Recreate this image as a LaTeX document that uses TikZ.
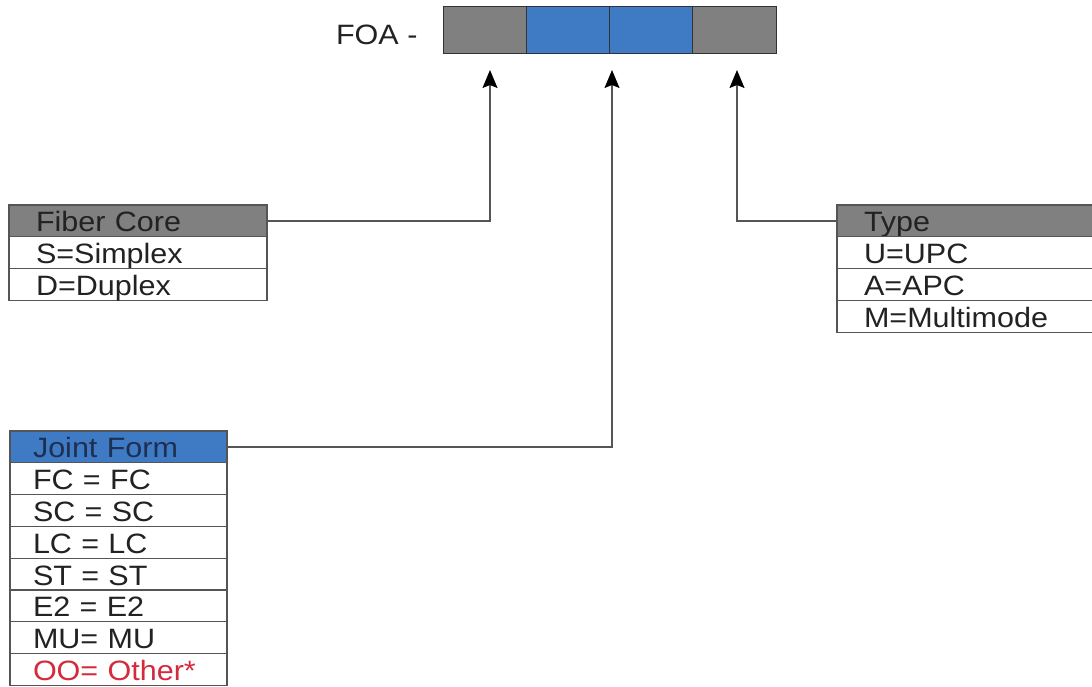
\documentclass[tikz,border=0pt]{standalone}
\usepackage{fontspec}
\setmainfont{Liberation Sans}[FakeStretch=1.09]
\usetikzlibrary{positioning,arrows.meta}
\definecolor{cellgray}{HTML}{808080}
\definecolor{cellblue}{HTML}{3E7BC4}
\definecolor{rulegray}{HTML}{555555}
\definecolor{textdark}{HTML}{222222}
\definecolor{navytext}{HTML}{1E2F52}
\definecolor{otherred}{HTML}{D42A3C}
\begin{document}
\begin{tikzpicture}[x=1pt,y=-1pt,
  barcell/.style={draw=black!80,line width=1pt,minimum width=83.25pt,minimum height=47pt,inner sep=0pt,outer sep=0pt},
  cell/.style={draw=rulegray,line width=1.3pt,minimum height=31.8pt,inner ysep=0pt,outer sep=0pt,
    text height=26.8pt,text depth=5pt,align=left,text=textdark,font=\fontsize{28}{30}\selectfont},
  corecell/.style={cell,inner xsep=27pt,text width=204pt},
  typecell/.style={cell,inner xsep=27pt,text width=206pt},
  jointcell/.style={cell,inner xsep=23pt,text width=171pt},
  link/.style={draw=rulegray,line width=1.3pt,-{Stealth[length=18pt,width=15pt,inset=3pt,color=black]}}]
\useasboundingbox (0,0) rectangle (1092,687);

% code bar
\node[barcell,fill=cellgray,anchor=north west](c1) at (443,7){};
\node[barcell,fill=cellblue,right=0pt of c1](c2){};
\node[barcell,fill=cellblue,right=0pt of c2](c3){};
\node[barcell,fill=cellgray,right=0pt of c3](c4){};
\node[anchor=base east,text=textdark,font=\fontsize{28}{30}\selectfont](foa) at (421,45){FOA -};

\coordinate (t1) at (490,70);  \coordinate (t2) at (612,70);  \coordinate (t3) at (737,70);

% fiber core
\node[corecell,fill=cellgray,anchor=north west](core) at (9,205){Fiber Core};
\node[corecell,below=0pt of core](core1){S=Simplex};
\node[corecell,below=0pt of core1](core2){D=Duplex};

% type
\node[typecell,fill=cellgray,anchor=north west](type) at (837,205){Type};
\node[typecell,below=0pt of type](type1){U=UPC};
\node[typecell,below=0pt of type1](type2){A=APC};
\node[typecell,below=0pt of type2](type3){M=Multimode};

% joint form
\node[jointcell,fill=cellblue,text=navytext,anchor=north west](joint) at (10,431){Joint Form};
\node[jointcell,below=0pt of joint](joint1){FC = FC};
\node[jointcell,below=0pt of joint1](joint2){SC = SC};
\node[jointcell,below=0pt of joint2](joint3){LC = LC};
\node[jointcell,below=0pt of joint3](joint4){ST = ST};
\node[jointcell,below=0pt of joint4](joint5){E2 = E2};
\node[jointcell,below=0pt of joint5](joint6){MU= MU};
\node[jointcell,text=otherred,below=0pt of joint6](joint7){OO= Other*};

\draw[link] (core.east) -| (t1);
\draw[link] (joint.east) -| (t2);
\draw[link] (type.west) -| (t3);
\end{tikzpicture}
\end{document}
